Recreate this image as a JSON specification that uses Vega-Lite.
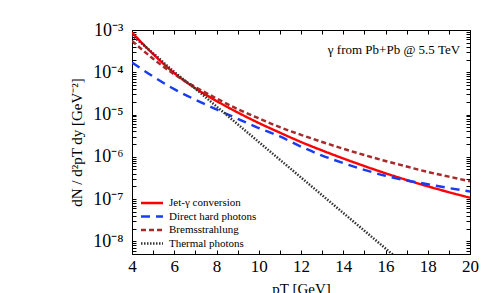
{
  "$schema": "https://vega.github.io/schema/vega-lite/v6.json",
  "width": 338,
  "height": 224,
  "autosize": {"type": "none"},
  "padding": {"left": 132, "top": 30, "right": 21, "bottom": 39},
  "background": "white",
  "config": {
    "view": {"stroke": "black", "strokeWidth": 1},
    "font": "Liberation Serif",
    "axis": {"domain": false, "grid": false, "tickColor": "black", "labelColor": "black", "titleColor": "black", "labelFont": "Liberation Serif", "titleFont": "Liberation Serif", "titleFontWeight": "normal", "labelOverlap": false, "labelFlush": false, "labelBound": false}
  },
  "data": {"values": [
    {"s": "Jet-γ conversion", "x": 4, "y": 8.71e-4},
    {"s": "Jet-γ conversion", "x": 5, "y": 2.69e-4},
    {"s": "Jet-γ conversion", "x": 6, "y": 9.55e-5},
    {"s": "Jet-γ conversion", "x": 7, "y": 4.17e-5},
    {"s": "Jet-γ conversion", "x": 8, "y": 2.09e-5},
    {"s": "Jet-γ conversion", "x": 9, "y": 1.12e-5},
    {"s": "Jet-γ conversion", "x": 10, "y": 6.31e-6},
    {"s": "Jet-γ conversion", "x": 11, "y": 3.72e-6},
    {"s": "Jet-γ conversion", "x": 12, "y": 2.24e-6},
    {"s": "Jet-γ conversion", "x": 13, "y": 1.41e-6},
    {"s": "Jet-γ conversion", "x": 14, "y": 9.12e-7},
    {"s": "Jet-γ conversion", "x": 15, "y": 6.03e-7},
    {"s": "Jet-γ conversion", "x": 16, "y": 4.07e-7},
    {"s": "Jet-γ conversion", "x": 17, "y": 2.82e-7},
    {"s": "Jet-γ conversion", "x": 18, "y": 2.0e-7},
    {"s": "Jet-γ conversion", "x": 19, "y": 1.45e-7},
    {"s": "Jet-γ conversion", "x": 20, "y": 1.07e-7},
    {"s": "Direct hard photons", "x": 4, "y": 1.70e-4},
    {"s": "Direct hard photons", "x": 5, "y": 7.94e-5},
    {"s": "Direct hard photons", "x": 6, "y": 3.98e-5},
    {"s": "Direct hard photons", "x": 7, "y": 2.24e-5},
    {"s": "Direct hard photons", "x": 8, "y": 1.32e-5},
    {"s": "Direct hard photons", "x": 9, "y": 7.94e-6},
    {"s": "Direct hard photons", "x": 10, "y": 4.79e-6},
    {"s": "Direct hard photons", "x": 11, "y": 3.02e-6},
    {"s": "Direct hard photons", "x": 12, "y": 1.74e-6},
    {"s": "Direct hard photons", "x": 13, "y": 1.07e-6},
    {"s": "Direct hard photons", "x": 14, "y": 7.08e-7},
    {"s": "Direct hard photons", "x": 15, "y": 4.90e-7},
    {"s": "Direct hard photons", "x": 16, "y": 3.55e-7},
    {"s": "Direct hard photons", "x": 17, "y": 2.75e-7},
    {"s": "Direct hard photons", "x": 18, "y": 2.24e-7},
    {"s": "Direct hard photons", "x": 19, "y": 1.82e-7},
    {"s": "Direct hard photons", "x": 20, "y": 1.51e-7},
    {"s": "Bremsstrahlung", "x": 4, "y": 5.50e-4},
    {"s": "Bremsstrahlung", "x": 5, "y": 2.09e-4},
    {"s": "Bremsstrahlung", "x": 6, "y": 8.91e-5},
    {"s": "Bremsstrahlung", "x": 7, "y": 4.47e-5},
    {"s": "Bremsstrahlung", "x": 8, "y": 2.40e-5},
    {"s": "Bremsstrahlung", "x": 9, "y": 1.35e-5},
    {"s": "Bremsstrahlung", "x": 10, "y": 8.13e-6},
    {"s": "Bremsstrahlung", "x": 11, "y": 5.01e-6},
    {"s": "Bremsstrahlung", "x": 12, "y": 3.31e-6},
    {"s": "Bremsstrahlung", "x": 13, "y": 2.24e-6},
    {"s": "Bremsstrahlung", "x": 14, "y": 1.55e-6},
    {"s": "Bremsstrahlung", "x": 15, "y": 1.10e-6},
    {"s": "Bremsstrahlung", "x": 16, "y": 7.94e-7},
    {"s": "Bremsstrahlung", "x": 17, "y": 5.89e-7},
    {"s": "Bremsstrahlung", "x": 18, "y": 4.37e-7},
    {"s": "Bremsstrahlung", "x": 19, "y": 3.39e-7},
    {"s": "Bremsstrahlung", "x": 20, "y": 2.63e-7},
    {"s": "Thermal photons", "x": 4, "y": 7.41e-4},
    {"s": "Thermal photons", "x": 5, "y": 2.82e-4},
    {"s": "Thermal photons", "x": 6, "y": 1.02e-4},
    {"s": "Thermal photons", "x": 7, "y": 4.07e-5},
    {"s": "Thermal photons", "x": 8, "y": 1.55e-5},
    {"s": "Thermal photons", "x": 9, "y": 5.89e-6},
    {"s": "Thermal photons", "x": 10, "y": 2.24e-6},
    {"s": "Thermal photons", "x": 11, "y": 8.51e-7},
    {"s": "Thermal photons", "x": 12, "y": 3.24e-7},
    {"s": "Thermal photons", "x": 13, "y": 1.23e-7},
    {"s": "Thermal photons", "x": 14, "y": 4.68e-8},
    {"s": "Thermal photons", "x": 15, "y": 1.78e-8},
    {"s": "Thermal photons", "x": 16, "y": 6.76e-9},
    {"s": "Thermal photons", "x": 17, "y": 2.57e-9}
  ]},
  "layer": [
    {
      "mark": {"type": "line", "clip": true, "interpolate": "monotone"},
      "encoding": {
        "x": {"field": "x", "type": "quantitative", "scale": {"domain": [4, 20], "nice": false, "zero": false},
          "axis": {"orient": "bottom", "values": [4,5,6,7,8,9,10,11,12,13,14,15,16,17,18,19,20], "labelExpr": "datum.value % 2 == 0 ? datum.label : ''", "tickSize": -4, "labelPadding": 8, "labelFontSize": 17, "title": "pT [GeV]", "titleFontSize": 15, "titlePadding": 7}},
        "y": {"field": "y", "type": "quantitative", "scale": {"type": "log", "domain": [5e-9, 1e-3], "nice": false},
          "axis": {"orient": "left",
            "values": [5e-9,6e-9,7e-9,8e-9,9e-9,1e-8,2e-8,3e-8,4e-8,5e-8,6e-8,7e-8,8e-8,9e-8,1e-7,2e-7,3e-7,4e-7,5e-7,6e-7,7e-7,8e-7,9e-7,1e-6,2e-6,3e-6,4e-6,5e-6,6e-6,7e-6,8e-6,9e-6,1e-5,2e-5,3e-5,4e-5,5e-5,6e-5,7e-5,8e-5,9e-5,1e-4,2e-4,3e-4,4e-4,5e-4,6e-4,7e-4,8e-4,9e-4,1e-3],
            "labelExpr": "abs(log(datum.value)/LN10 - round(log(datum.value)/LN10)) < 0.001 ? '10⁻' + ['⁰','¹','²','³','⁴','⁵','⁶','⁷','⁸','⁹'][-round(log(datum.value)/LN10)] : ''",
            "tickSize": -4, "labelPadding": 13, "labelFontSize": 18,
            "title": "dN / d²pT dy [GeV⁻²]", "titleFontSize": 15, "titlePadding": 8}},
        "color": {"field": "s", "type": "nominal", "sort": null,
          "scale": {"domain": ["Jet-γ conversion", "Direct hard photons", "Bremsstrahlung", "Thermal photons"], "range": ["#ff0000", "#1a3cf0", "#a52a2a", "#333333"]},
          "legend": {"orient": "none", "legendX": 13, "legendY": 166, "title": null, "symbolType": "M-2,0H2", "symbolSize": 121, "labelFontSize": 11, "labelFont": "Liberation Serif", "labelColor": "black", "labelOffset": 10, "rowPadding": 1.5, "padding": 0}},
        "strokeDash": {"field": "s", "type": "nominal", "sort": null,
          "scale": {"domain": ["Jet-γ conversion", "Direct hard photons", "Bremsstrahlung", "Thermal photons"], "range": [[1, 0], [9, 6], [5, 3], [1.5, 1.5]]}},
        "strokeWidth": {"field": "s", "type": "nominal", "sort": null,
          "scale": {"domain": ["Jet-γ conversion", "Direct hard photons", "Bremsstrahlung", "Thermal photons"], "range": [2.4, 2.5, 2.2, 1.2]}}
      }
    },
    {
      "mark": {"type": "line", "strokeOpacity": 0},
      "encoding": {
        "x": {"field": "x", "type": "quantitative", "axis": {"orient": "top", "values": [4,5,6,7,8,9,10,11,12,13,14,15,16,17,18,19,20], "labels": false, "tickSize": -4, "title": null}},
        "y": {"field": "y", "type": "quantitative",
          "axis": {"orient": "right", "labels": false, "tickSize": -4, "title": null,
            "values": [5e-9,6e-9,7e-9,8e-9,9e-9,1e-8,2e-8,3e-8,4e-8,5e-8,6e-8,7e-8,8e-8,9e-8,1e-7,2e-7,3e-7,4e-7,5e-7,6e-7,7e-7,8e-7,9e-7,1e-6,2e-6,3e-6,4e-6,5e-6,6e-6,7e-6,8e-6,9e-6,1e-5,2e-5,3e-5,4e-5,5e-5,6e-5,7e-5,8e-5,9e-5,1e-4,2e-4,3e-4,4e-4,5e-4,6e-4,7e-4,8e-4,9e-4,1e-3]}},
        "detail": {"field": "s", "type": "nominal"}
      }
    },
    {
      "data": {"values": [{"label": "γ from Pb+Pb @ 5.5 TeV"}]},
      "mark": {"type": "text", "align": "right", "baseline": "middle", "font": "Liberation Serif", "fontSize": 13, "color": "black"},
      "encoding": {
        "text": {"field": "label", "type": "nominal"},
        "x": {"datum": 19.53, "type": "quantitative", "axis": null},
        "y": {"datum": 3.37e-4, "type": "quantitative", "axis": null}
      }
    }
  ],
  "resolve": {"axis": {"x": "independent", "y": "independent"}}
}
